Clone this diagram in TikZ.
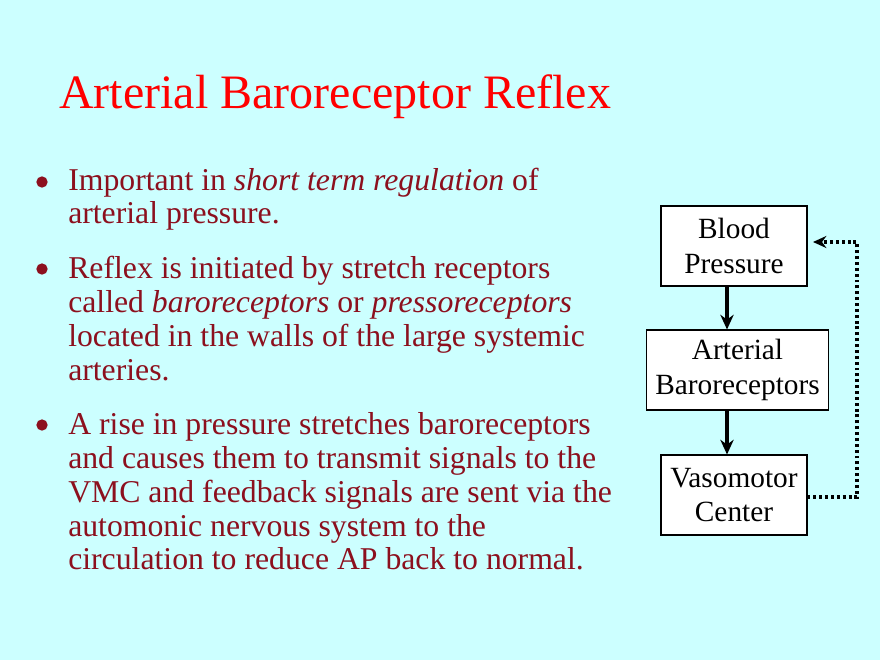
\documentclass[tikz,border=0pt]{standalone}
\usepackage{fontspec}
\usetikzlibrary{arrows.meta}
\setmainfont{Liberation Serif}
\definecolor{bg}{RGB}{204,255,255}
\definecolor{ttl}{RGB}{255,0,0}
\definecolor{body}{RGB}{140,16,30}
\begin{document}
\begin{tikzpicture}[x=0.75pt,y=-0.75pt,
  line/.style={anchor=base west,inner sep=0pt,text=body,font=\fontsize{23.8}{28}\selectfont},
  dotb/.style={fill=body,circle,inner sep=0pt,minimum size=8.5pt},
  box/.style={draw=black,fill=white,line width=0.8pt,align=center,font=\fontsize{22}{26}\selectfont,inner sep=0pt},
  arr/.style={line width=2.4pt,-{Stealth[length=11pt,width=10pt]}},
  fb/.style={line width=2.4pt,dash pattern=on 2.2pt off 2.2pt,-{Stealth[length=10pt,width=9pt]}}]
\fill[bg] (0,0) rectangle (880,660);
\useasboundingbox (0,0) rectangle (880,660);
\node[anchor=base west,inner sep=0pt,text=ttl,font=\fontsize{36}{42}\selectfont] (title) at (59,108) {Arterial Baroreceptor Reflex};
\node[dotb] (b1) at (42,182) {};
\node[dotb] (b2) at (42,269) {};
\node[dotb] (b3) at (42,425) {};
\node[line] (l1) at (68,190) {Important in \textit{short term regulation} of};
\node[line] (l2) at (68,223) {arterial pressure.};
\node[line] (l3) at (68,278) {Reflex is initiated by stretch receptors};
\node[line] (l4) at (68,312) {called \textit{baroreceptors} or \textit{pressoreceptors}};
\node[line] (l5) at (68,346) {located in the walls of the large systemic};
\node[line] (l6) at (68,380) {arteries.};
\node[line] (l7) at (68,434) {A rise in pressure stretches baroreceptors};
\node[line] (l8) at (68,468) {and causes them to transmit signals to the};
\node[line] (l9) at (68,502) {VMC and feedback signals are sent via the};
\node[line] (l10) at (68,536) {automonic nervous system to the};
\node[line] (l11) at (68,569) {circulation to reduce AP back to normal.};
\node[box,minimum width=109.5pt,minimum height=60pt] (bp) at (734,246) {Blood\\Pressure};
\node[box,minimum width=137pt,minimum height=60pt] (ab) at (737.5,370) {Arterial\\Baroreceptors};
\node[box,minimum width=109.5pt,minimum height=60pt] (vc) at (734,495) {Vasomotor\\Center};
\draw[arr] (bp.south -| 727,0) -- (ab.north -| 727,0);
\draw[arr] (ab.south -| 727,0) -- (vc.north -| 727,0);
\coordinate (c1) at (857,497);
\coordinate (c2) at (857,242);
\coordinate (c3) at (813,242);
\draw[fb] (vc.east |- c1) -- (c1) -- (c2) -- (c3);
\end{tikzpicture}
\end{document}
